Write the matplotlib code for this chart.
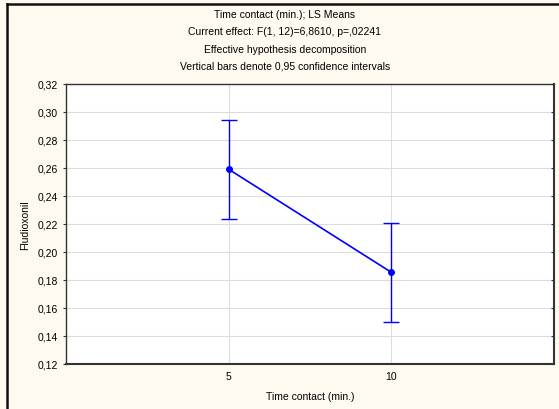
import matplotlib

matplotlib.use("Agg")

import matplotlib.pyplot as plt
from matplotlib.lines import Line2D
from matplotlib.ticker import FuncFormatter

plt.rcParams["font.family"] = ["Liberation Sans", "DejaVu Sans"]

# LS means with 0.95 confidence limits
time_levels = ["5", "10"]
ls_means = [0.2591, 0.1855]
ci_lower = [0.2238, 0.1502]
ci_upper = [0.2945, 0.2207]

title_lines = [
    "Time contact (min.); LS Means",
    "Current effect: F(1, 12)=6,8610, p=,02241",
    "Effective hypothesis decomposition",
    "Vertical bars denote 0,95 confidence intervals",
]

bg = "#fefaef"
fig = plt.figure(figsize=(5.59, 4.10), dpi=100, facecolor=bg)
W, H = 559, 410
ax = fig.add_axes([66 / W, 1 - 365 / H, (554 - 66) / W, (365 - 85) / H])
ax.set_facecolor("white")

x = [1, 2]
yerr = [[m - lo for m, lo in zip(ls_means, ci_lower)],
        [hi - m for m, hi in zip(ls_means, ci_upper)]]
ax.errorbar(x, ls_means, yerr=yerr, color="#0000ff", ecolor="#0000ff",
            marker="o", markersize=4, linewidth=1.2, elinewidth=1.0,
            capsize=5.5, capthick=1.0, zorder=3)

ax.set_xlim(0, 3)
ax.set_ylim(0.12, 0.32)
ax.set_xticks(x)
ax.set_xticklabels(time_levels)
ax.set_yticks([0.12 + 0.02 * i for i in range(11)])
ax.yaxis.set_major_formatter(FuncFormatter(lambda v, p: f"{v:.2f}".replace(".", ",")))
ax.grid(True, color="#dcdcdc", linewidth=0.8)
ax.set_axisbelow(True)
ax.tick_params(axis="x", labelsize=7.5, length=0, pad=5)
ax.tick_params(axis="y", labelsize=7.5, length=2.5, width=0.8, colors="#333333",
               labelcolor="black", direction="out")
ax.tick_params(axis="y", which="both", right=True)
for t in ax.yaxis.get_major_ticks():
    t.tick2line.set_marker(0)  # right-side ticks point inward
    t.tick2line.set_markersize(2.5)
for name, s in ax.spines.items():
    s.set_color("#333333")
    s.set_linewidth(1.0)
ax.spines["right"].set_linewidth(1.5)
ax.spines["bottom"].set_linewidth(1.5)

ax.set_xlabel("Time contact (min.)", fontsize=7.5, labelpad=7)
ax.set_ylabel("Fludioxonil", fontsize=7.5, labelpad=5)

for i, line in enumerate(title_lines):
    fig.text(285 / W, 1 - (15 + i * 17.3) / H, line, ha="center", va="center", fontsize=7.5)

# frame lines on the left and top edges
fig.lines.append(Line2D([7 / W, 7 / W], [0, 1 - 5 / H], transform=fig.transFigure,
                        color="#111111", linewidth=1.8))
fig.lines.append(Line2D([7 / W, 1], [1 - 5 / H, 1 - 5 / H], transform=fig.transFigure,
                        color="#111111", linewidth=1.8))

fig.savefig("out.png", dpi=100, facecolor=bg)
